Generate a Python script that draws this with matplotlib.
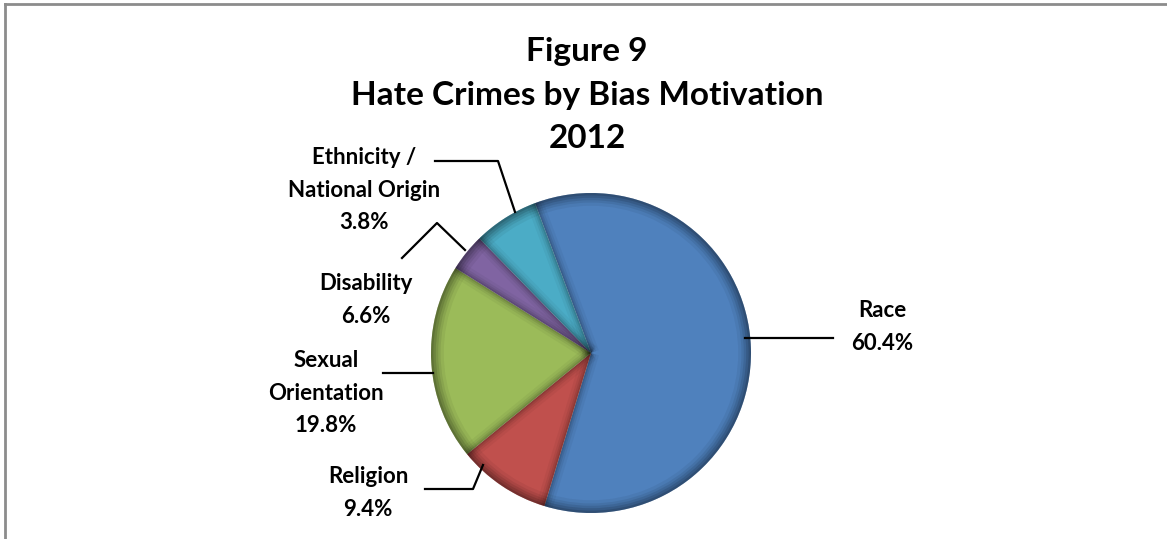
import numpy as np
import matplotlib.pyplot as plt
from matplotlib.lines import Line2D
from matplotlib.patches import Wedge, Circle

# slices in drawing order (clockwise from the top)
categories = ["Race", "Religion", "Sexual Orientation", "Disability", "Ethnicity / National Origin"]
values = [60.4, 9.4, 19.8, 3.8, 6.6]
colors = ["#4F81BD", "#C0504D", "#9BBB59", "#8064A2", "#4BACC6"]
# label text as printed on the source chart
label_texts = ["Race\n60.4%", "Religion\n9.4%", "Sexual\nOrientation\n19.8%",
               "Disability\n6.6%", "Ethnicity /\nNational Origin\n3.8%"]

W, H = 1167, 539
CX, CY, R = 591, 353, 160
FONT = "Lato"


def fx(x):
    return x / W


def fy(y):
    return 1 - y / H


def px(x, y):
    # pixel position -> pie data coords
    return (x - CX) / R, (CY - y) / R


fig = plt.figure(figsize=(W / 100, H / 100), dpi=100)
ax = fig.add_axes([fx(CX - R), (H - CY - R) / H, 2 * R / W, 2 * R / H])
wedges, _ = ax.pie(values, colors=colors, startangle=110.5, counterclock=False,
                   radius=1, wedgeprops=dict(linewidth=0))
ax.set_xlim(-1, 1)
ax.set_ylim(-1, 1)
ax.set_aspect("equal")
ax.axis("off")

# bevel-like shading: darker rim and darker bands along slice edges
clip = Circle((0, 0), 1, transform=ax.transData)
for w, a in [(0.08, 0.05), (0.06, 0.07), (0.045, 0.09), (0.03, 0.11), (0.015, 0.13)]:
    ax.add_patch(Wedge((0, 0), 1, 0, 360, width=w, color="black", alpha=a, lw=0))
angles = 110.5 - 360 * np.cumsum([0] + values[:-1]) / sum(values)
for ang in angles:
    t = np.deg2rad(ang)
    for lw, a in [(12, 0.04), (8, 0.06), (5, 0.08), (2.5, 0.1)]:
        ln, = ax.plot([0, np.cos(t)], [0, np.sin(t)], color="black", alpha=a,
                      lw=lw, solid_capstyle="butt")
        ln.set_clip_path(clip)

# labels and leader lines (pixel positions read from the source)
label_pos = [(882, 327), (368, 493), (326, 393), (366, 300), (364, 190)]
leaders = [
    [(745, 338), (833, 338)],
    [(425, 489), (473, 489), (483, 465)],
    [(383, 373), (433, 373)],
    [(402, 258), (437, 223), (465, 250)],
    [(435, 161), (498, 161), (515, 212)],
]
for txt, (lx, ly) in zip(label_texts, label_pos):
    ax.text(*px(lx, ly), txt, ha="center", va="center", fontsize=16,
            fontweight="bold", family=FONT, linespacing=1.65, clip_on=False)
for pts in leaders:
    xs, ys = zip(*[px(x, y) for x, y in pts])
    ax.plot(xs, ys, color="black", lw=1.6, clip_on=False)

# title
fig.text(fx(587), fy(95), "Figure 9\nHate Crimes by Bias Motivation\n2012",
         ha="center", va="center", fontsize=24, fontweight="bold",
         family=FONT, linespacing=1.62)

# chart frame (only top and left edges visible)
fig.add_artist(Line2D([fx(5), fx(5)], [0, fy(4)], color="#8c8c8c", lw=2))
fig.add_artist(Line2D([fx(5), 1], [fy(4), fy(4)], color="#8c8c8c", lw=2))

fig.savefig("out.png", dpi=100)
